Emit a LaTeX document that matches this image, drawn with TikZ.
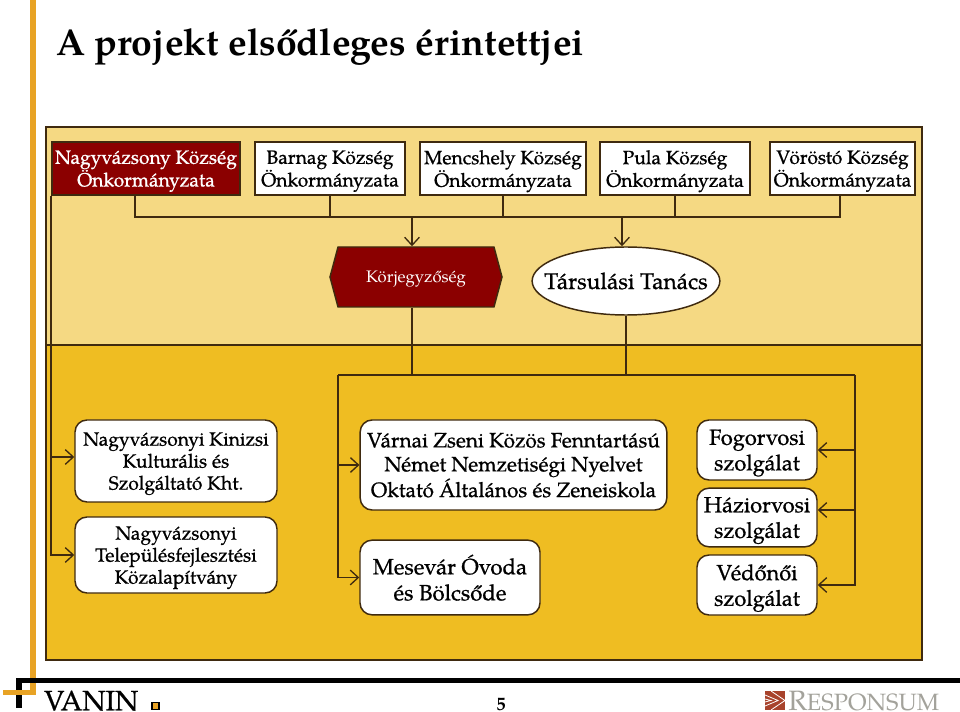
\documentclass[tikz,border=0pt]{standalone}
\usepackage{fontspec}
\setmainfont{TeX Gyre Pagella}
\newfontfamily\kozep[FakeBold=0.8]{TeX Gyre Pagella}
\usetikzlibrary{calc, arrows.meta, shapes.geometric, shapes.symbols}
\definecolor{panelTop}{HTML}{F5D983}
\definecolor{panelLow}{HTML}{EFBD22}
\definecolor{wine}{HTML}{8B0000}
\definecolor{edge}{HTML}{3F2A0F}
\definecolor{barOrange}{HTML}{E8A325}
\definecolor{logoRed}{HTML}{A8432C}
\definecolor{logoGrey}{HTML}{A3A29B}
\tikzset{
    onk/.style={draw=edge, line width=1.4pt, fill=white, inner sep=0pt, align=center, text depth=0pt, font=\fontsize{14.4}{17}\selectfont\kozep},
    onkred/.style={onk, fill=wine, text=white},
    rbox/.style={draw=edge, line width=1.1pt, fill=white, rounded corners=9pt, inner sep=0pt, align=center, text depth=0pt},
    conn/.style={draw=edge, line width=1.1pt},
    arr/.style={conn, -{Straight Barb[length=6pt,width=11pt,line width=1pt]}},
}
\begin{document}
\begin{tikzpicture}[x=0.75pt,y=-0.75pt]
    \useasboundingbox (0,0) rectangle (960,712);
    % panels
    \draw[edge, line width=1.4pt, fill=panelTop] (46,127) rectangle (922,345);
    \draw[edge, line width=1.4pt, fill=panelLow] (46,345) rectangle (922,660);
    % page frame
    \fill[barOrange] (30,0) rectangle (36,695);
    \fill[black] (16,678) rectangle (960,683);
    \fill[black] (16,678) rectangle (22,708);
    \fill[barOrange] (3,690) rectangle (36,695);
    \node[anchor=west, inner sep=0pt, font=\fontsize{28}{30}\selectfont\bfseries] (cim) at (56,47) {A projekt elsődleges érintettjei};
    % municipalities
    \node[onkred, minimum width=141pt, minimum height=39.5pt] (nagyv) at (146,168.5) {Nagyvázsony Község\\Önkormányzata};
    \node[onk, minimum width=112pt, minimum height=39.5pt] (barnag) at (330,168.5) {Barnag Község\\Önkormányzata};
    \node[onk, minimum width=125pt, minimum height=39.5pt] (mencs) at (503,168.5) {Mencshely Község\\Önkormányzata};
    \node[onk, minimum width=112pt, minimum height=39.5pt] (pula) at (675,168.5) {Pula Község\\Önkormányzata};
    \node[onk, minimum width=109pt, minimum height=39.5pt] (vorost) at (842.5,168.5) {Vöröstó Község\\Önkormányzata};
    % middle row
    \node[signal, signal to=east and west, signal pointer angle=150, draw=edge, line width=1.1pt, fill=wine, text=white,
        minimum width=129pt, minimum height=45pt, inner sep=0pt, text depth=0pt, font=\fontsize{12.5}{14}\selectfont] (korj) at (416,277) {Körjegyzőség};
    \node[ellipse, draw=edge, line width=1.1pt, fill=white, minimum width=140pt, minimum height=51pt, inner xsep=-11.5pt, inner ysep=8pt,
        font=\fontsize{17}{20}\selectfont\kozep] (tars) at (626,281) {Társulási Tanács};
    % institutions
    \node[rbox, minimum width=151.5pt, minimum height=61.5pt, font=\fontsize{14.4}{16.5}\selectfont\kozep] (kinizsi) at (176,461) {Nagyvázsonyi Kinizsi\\Kulturális és\\Szolgáltató Kht.};
    \node[rbox, minimum width=151.5pt, minimum height=57pt, font=\fontsize{14.4}{16.5}\selectfont\kozep] (telep) at (176,555) {Nagyvázsonyi\\Településfejlesztési\\Közalapítvány};
    \node[rbox, minimum width=230pt, minimum height=67.5pt, font=\fontsize{15.6}{18}\selectfont\kozep] (varnai) at (513.5,465) {Várnai Zseni Közös Fenntartású\\Német Nemzetiségi Nyelvet\\Oktató Általános és Zeneiskola};
    \node[rbox, minimum width=135pt, minimum height=56pt, font=\fontsize{16.6}{19.5}\selectfont\kozep] (ovoda) at (450,577.5) {Mesevár Óvoda\\és Bölcsőde};
    \node[rbox, minimum width=90pt, minimum height=45pt, font=\fontsize{16.4}{19.2}\selectfont\kozep] (fogorv) at (757,450) {Fogorvosi\\szolgálat};
    \node[rbox, minimum width=90pt, minimum height=44pt, font=\fontsize{16.4}{19.2}\selectfont\kozep] (hazi) at (757,517.5) {Háziorvosi\\szolgálat};
    \node[rbox, minimum width=90pt, minimum height=45pt, font=\fontsize{16.4}{19.2}\selectfont\kozep] (vedo) at (757,585) {Védőnői\\szolgálat};
    % connectors
    \coordinate (busL) at (135,217);
    \coordinate (busR) at (840,217);
    \draw[conn] (nagyv.south -| busL) -- (busL) -- (busR) -- (vorost.south -| busR);
    \foreach \n in {barnag,mencs,pula}{
        \draw[conn] (\n.south) -- (\n.south |- busL);
    }
    \coordinate (korjBe) at ($(korj.north)+(-4,0)$);
    \coordinate (tarsBe) at ($(tars.north)+(-4,0)$);
    \draw[arr] (korjBe |- busL) -- (korjBe);
    \draw[arr] (tarsBe |- busL) -- (tarsBe);
    \coordinate (lowL) at (338,375);
    \coordinate (lowR) at (855,375);
    \coordinate (korjKi) at ($(korj.south)+(-4,0)$);
    \draw[conn] (korjKi) -- (korjKi |- lowL);
    \draw[conn] (tars.south) -- (tars.south |- lowL);
    \draw[conn] (lowL) -- (lowR);
    \draw[arr] (lowL) |- (ovoda.west);
    \draw[arr] (lowL |- varnai.west) -- (varnai.west);
    \draw[arr] (lowR) |- (vedo.east);
    \coordinate (haziBe) at ($(hazi.east)+(0,-7.5)$);
    \draw[arr] (lowR |- fogorv.east) -- (fogorv.east);
    \draw[arr] (lowR |- haziBe) -- (haziBe);
    \coordinate (sideL) at (nagyv.south west);
    \coordinate (kinizsiBe) at ($(kinizsi.west)+(0,-4)$);
    \draw[arr] (sideL) |- (telep.west);
    \draw[arr] (sideL |- kinizsiBe) -- (kinizsiBe);
    % footer
    \node[anchor=west, inner sep=0pt, text depth=0pt, font=\fontsize{21}{24}\selectfont\kozep] (vanin) at (44,700.5) {VANIN};
    \node[draw=black, line width=1.2pt, fill=barOrange, minimum size=5.5pt, inner sep=0pt] (kocka) at (155.5,706) {};
    \node[inner sep=0pt, font=\fontsize{14}{15}\selectfont\bfseries] (oldal) at (501,705) {5};
    \fill[logoRed] (765,691) rectangle (785,710);
    \draw[white, line width=0.6pt] (765,695) -- (778,700.5) -- (765,706) (765,699) -- (771,700.5) -- (765,702) (771,691) -- (785,700.5) -- (771,710);
    \node[anchor=west, inner sep=0pt, text=logoGrey, font=\fontsize{21}{22}\selectfont] (logo) at (788,701) {R\fontsize{17.7}{22}\selectfont ESPONSUM};
\end{tikzpicture}
\end{document}
